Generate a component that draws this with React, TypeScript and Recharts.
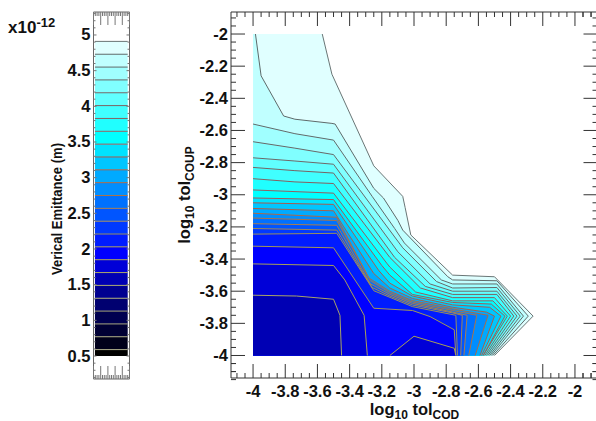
import React from "react";
import { ComposedChart, XAxis, YAxis, Area, Line } from "recharts";

type Pt = [number, number];

const FONT = "'Liberation Sans', Arial, sans-serif";
const AXIS = "#333333";

const bandColors = [
  "#e0ffff", "#c0ffff", "#a0ffff", "#80ffff", "#60ffff", "#40ffff", "#20ffff", "#00ffff",
  "#00e3ff", "#00c6ff", "#00aaff", "#008eff", "#0071ff", "#0055ff", "#0039ff", "#001cff", "#0000ff",
  "#0000d8", "#0000b4", "#000090", "#000070", "#000050", "#000034", "#00001a", "#000000",
];
const lineColors = [
  "#6a7676", "#5e6a6a", "#626a6a", "#686868", "#706868", "#786464", "#866060", "#926060",
  "#a05a5a", "#a55c50", "#a86048", "#aa6a48", "#aa7448", "#a87e50", "#a08858", "#98905e",
  "#a09858", "#a8a058", "#a8a468", "#a8a870", "#a8a878", "#a8a878", "#a8a880", "#a8a880", "#a8a888",
];
const levels = [4.91, 4.73, 4.55, 4.37, 4.19, 4.01, 3.83, 3.65, 3.47, 3.29, 3.11, 2.93, 2.75, 2.57, 2.39, 2.21, 2.03, 1.85, 1.67, 1.49, 1.31, 1.13, 0.95, 0.77, 0.59];
const levelFloor = 0.5;

const c1: Pt[] = [[-3.57, -2], [-3.51, -2.25], [-3.25, -2.82], [-3.07, -3.01], [-3.055, -3.08], [-3.02, -3.25], [-2.76, -3.5], [-2.5, -3.51], [-2.26, -3.755], [-2.5, -4]];
const c2: Pt[] = [[-3.985, -2], [-3.95, -2.26], [-3.81, -2.51], [-3.74, -2.53], [-3.51, -2.556], [-3.49, -2.56], [-3.25, -2.96], [-3.19, -3.02], [-3.1, -3.16], [-3.07, -3.22], [-2.79, -3.51], [-2.76, -3.53], [-2.485, -3.535], [-2.29, -3.755], [-2.51, -4]];
const c3: Pt[] = [[-4, -2.56], [-3.74, -2.62], [-3.5, -2.66], [-3.26, -3.01], [-3.12, -3.21], [-3.06, -3.3], [-2.83, -3.53], [-2.76, -3.555], [-2.485, -3.555], [-2.32, -3.755], [-2.52, -4]];
const c4: Pt[] = [[-4, -2.67], [-3.74, -2.71], [-3.5, -2.75], [-3.07, -3.33], [-2.86, -3.54], [-2.76, -3.58], [-2.485, -3.577], [-2.34, -3.755], [-2.53, -4]];
const c5: Pt[] = [[-4, -2.77], [-3.74, -2.79], [-3.5, -2.81], [-3.1, -3.355], [-2.9, -3.555], [-2.76, -3.6], [-2.485, -3.6], [-2.36, -3.755], [-2.54, -4]];
const c6: Pt[] = [[-4, -2.83], [-3.74, -2.85], [-3.5, -2.865], [-3.12, -3.39], [-2.93, -3.57], [-2.76, -3.62], [-2.485, -3.62], [-2.38, -3.755], [-2.55, -4]];
const c7: Pt[] = [[-4, -2.9], [-3.74, -2.92], [-3.5, -2.93], [-3.15, -3.39], [-2.96, -3.58], [-2.76, -3.64], [-2.5, -3.64], [-2.4, -3.755], [-2.56, -4]];
const c8: Pt[] = [[-4, -2.97], [-3.5, -2.99], [-3.17, -3.425], [-3.15, -3.45], [-2.99, -3.605], [-2.76, -3.66], [-2.51, -3.66], [-2.42, -3.755], [-2.57, -4]];
const c9: Pt[] = [[-4, -3.02], [-3.5, -3.03], [-3.2, -3.44], [-3.15, -3.5], [-3.01, -3.62], [-2.76, -3.67], [-2.52, -3.68], [-2.435, -3.755], [-2.57, -4]];
const c10: Pt[] = [[-4, -3.05], [-3.5, -3.06], [-3.22, -3.47], [-3.15, -3.55], [-3.01, -3.63], [-2.76, -3.685], [-2.53, -3.7], [-2.46, -3.755], [-2.58, -4]];
const c11: Pt[] = [[-4, -3.085], [-3.5, -3.1], [-3.25, -3.49], [-3.15, -3.58], [-3.01, -3.645], [-2.76, -3.7], [-2.55, -3.73], [-2.5, -3.755], [-2.59, -4]];
const c12: Pt[] = [[-4, -3.115], [-3.48, -3.14], [-3.28, -3.518], [-3.15, -3.6], [-3.01, -3.658], [-2.76, -3.71], [-2.54, -3.75], [-2.62, -4]];
const c13: Pt[] = [[-4, -3.145], [-3.48, -3.16], [-3.27, -3.536], [-3.15, -3.61], [-3.01, -3.667], [-2.76, -3.72], [-2.61, -3.75], [-2.66, -4]];
const c14: Pt[] = [[-4, -3.18], [-3.48, -3.19], [-3.27, -3.555], [-3.15, -3.62], [-3.01, -3.676], [-2.76, -3.73], [-2.67, -3.75], [-2.69, -4]];
const c15: Pt[] = [[-4, -3.21], [-3.48, -3.22], [-3.26, -3.577], [-3.15, -3.63], [-3.01, -3.686], [-2.76, -3.735], [-2.7, -3.75], [-2.71, -4]];
const c16: Pt[] = [[-4, -3.245], [-3.48, -3.24], [-3.25, -3.597], [-3.01, -3.696], [-2.74, -3.75], [-2.73, -4]];
const c17: Pt[] = [[-4, -3.32], [-3.5, -3.33], [-3.25, -3.706], [-3.01, -3.72], [-2.9, -3.758], [-2.75, -3.84], [-2.74, -4]];
const c18: Pt[] = [[-4, -3.43], [-3.5, -3.44], [-3.43, -3.53], [-3.31, -3.75], [-3.29, -4]];
const c19: Pt[] = [[-4, -3.625], [-3.73, -3.63], [-3.5, -3.65], [-3.46, -3.75], [-3.45, -4]];
const island: Pt[] = [[-3.15, -4], [-3, -3.88], [-2.75, -3.955], [-2.74, -4]];
const contours = [c1, c2, c3, c4, c5, c6, c7, c8, c9, c10, c11, c12, c13, c14, c15, c16, c17, c18, c19];

const xMajor = [-4, -3.8, -3.6, -3.4, -3.2, -3, -2.8, -2.6, -2.4, -2.2, -2];
const yMajor = [-2, -2.2, -2.4, -2.6, -2.8, -3, -3.2, -3.4, -3.6, -3.8, -4];
const minorOffsets = [0.05, 0.1, 0.15];
const xMinor = [-4.1, -4.05, ...xMajor.flatMap((v) => minorOffsets.map((o) => v + o)), -1.95, -1.9];
const yMinor = [-1.9, -1.95, ...yMajor.flatMap((v) => minorOffsets.map((o) => v - o)), -4.05, -4.1];
const barMajor = [0.5, 1, 1.5, 2, 2.5, 3, 3.5, 4, 4.5, 5];
const barMinor = [0.2, 0.3, 0.4, 0.6, 0.7, 0.8, 0.9, 1.1, 1.2, 1.3, 1.4, 1.6, 1.7, 1.8, 1.9, 2.1, 2.2, 2.3, 2.4, 2.6, 2.7, 2.8, 2.9, 3.1, 3.2, 3.3, 3.4, 3.6, 3.7, 3.8, 3.9, 4.1, 4.2, 4.3, 4.4, 4.6, 4.7, 4.8, 4.9, 5.1, 5.2, 5.3];
const barXMajor = [0, 0.2, 0.4, 0.6, 0.8, 1];
const barXMinor = [0.05, 0.1, 0.15, 0.25, 0.3, 0.35, 0.45, 0.5, 0.55, 0.65, 0.7, 0.75, 0.85, 0.9, 0.95];

const isMajor = (list: number[], v: number) => list.some((m) => Math.abs(m - v) < 1e-6);

const toRows = (pts: Pt[]) => pts.map(([x, y]) => ({ x, y }));

function toAreaRows(pts: Pt[]) {
  const bottom = -4;
  let upper: Pt[] = pts.slice();
  if (upper[0][0] > -4 && upper[0][1] === -2) upper = [[-4, -2], ...upper];
  const last = upper[upper.length - 1];
  const apex = upper[upper.length - 2];
  if (last[0] >= apex[0]) return upper.map(([x, y]) => ({ x, r: [bottom, y] }));
  const head = upper.slice(0, -1);
  const rows: { x: number; r: number[] }[] = [];
  let added = false;
  head.forEach(([x, y], i) => {
    if (!added && x > last[0] && i > 0) {
      const [px, py] = head[i - 1];
      const t = (last[0] - px) / (x - px);
      rows.push({ x: last[0], r: [bottom, py + t * (y - py)] });
      added = true;
    }
    const low = x <= last[0] ? bottom : bottom + ((x - last[0]) / (apex[0] - last[0])) * (apex[1] - bottom);
    rows.push({ x, r: [low, y] });
  });
  return rows;
}

type TickProps = { x: number; y: number; payload: { value: number } };
const numLabel = (v: number) => String(Math.round(v * 10) / 10);
const textStyle = { fontFamily: FONT, fontWeight: 700, fontSize: 16.5, fill: "#111" } as const;

const BottomTick = ({ x, y, payload }: TickProps) => {
  const major = isMajor(xMajor, payload.value);
  return (
    <g>
      <line x1={x} x2={x} y1={y} y2={y - (major ? 14 : 5)} stroke={AXIS} />
      {major && <text x={x} y={y + 19} textAnchor="middle" {...textStyle}>{numLabel(payload.value)}</text>}
    </g>
  );
};
const TopTick = ({ x, y, payload }: TickProps) => (
  <line x1={x} x2={x} y1={y} y2={y + (isMajor(xMajor, payload.value) ? 14 : 5)} stroke={AXIS} />
);
const LeftTick = ({ x, y, payload }: TickProps) => {
  const major = isMajor(yMajor, payload.value);
  return (
    <g>
      <line x1={x} x2={x + (major ? 14 : 5)} y1={y} y2={y} stroke={AXIS} />
      {major && <text x={x - 3} y={y + 5.5} textAnchor="end" {...textStyle}>{numLabel(payload.value)}</text>}
    </g>
  );
};
const RightTick = ({ x, y, payload }: TickProps) => (
  <line x1={x} x2={x - (isMajor(yMajor, payload.value) ? 14 : 5)} y1={y} y2={y} stroke={AXIS} />
);

const BarLeftTick = ({ x, y, payload }: TickProps) => {
  const major = isMajor(barMajor, payload.value);
  return (
    <g>
      <line x1={x} x2={x + (major ? 3 : 2)} y1={y} y2={y} stroke="#777" />
      {major && <text x={x - 3} y={y + 5.5} textAnchor="end" {...textStyle}>{numLabel(payload.value)}</text>}
    </g>
  );
};
const BarRightTick = ({ x, y, payload }: TickProps) => (
  <line x1={x} x2={x - (isMajor(barMajor, payload.value) ? 3 : 2)} y1={y} y2={y} stroke="#777" />
);
const BarTopTick = ({ x, y, payload }: TickProps) => (
  <line x1={x} x2={x} y1={y} y2={y + (isMajor(barXMajor, payload.value) ? 13 : 4)} stroke="#777" />
);
const BarBottomTick = ({ x, y, payload }: TickProps) => (
  <line x1={x} x2={x} y1={y} y2={y - (isMajor(barXMajor, payload.value) ? 13 : 4)} stroke="#777" />
);

const axisLine = { stroke: AXIS, strokeWidth: 1 };
const xTicks = [...xMinor, ...xMajor];
const yTicks = [...yMinor, ...yMajor];
const DOMAIN_X: [number, number] = [-4.137, -1.86];
const DOMAIN_Y: [number, number] = [-4.14, -1.863];

function MainChart() {
  return (
    <ComposedChart width={640} height={421} margin={{ left: 230, right: 41.5, top: 11, bottom: 42 }}>
      <XAxis xAxisId="b" dataKey="x" type="number" domain={DOMAIN_X} allowDataOverflow ticks={xTicks} interval={0} height={1} tickLine={false} tickSize={0} tickMargin={0} axisLine={axisLine} tick={BottomTick as any} />
      <XAxis xAxisId="t" orientation="top" dataKey="x" type="number" domain={DOMAIN_X} allowDataOverflow ticks={xTicks} interval={0} height={1} tickLine={false} tickSize={0} tickMargin={0} axisLine={axisLine} tick={TopTick as any} />
      <YAxis yAxisId="l" type="number" domain={DOMAIN_Y} allowDataOverflow ticks={yTicks} interval={0} width={1} tickLine={false} tickSize={0} tickMargin={0} axisLine={axisLine} tick={LeftTick as any} />
      <YAxis yAxisId="r" orientation="right" type="number" domain={DOMAIN_Y} allowDataOverflow ticks={yTicks} interval={0} width={1} tickLine={false} tickSize={0} tickMargin={0} axisLine={axisLine} tick={RightTick as any} />
      {contours.map((c, i) => (
        <Area key={`a${i}`} xAxisId="b" yAxisId="l" data={toAreaRows(c)} dataKey="r" type="linear" fill={bandColors[i]} fillOpacity={1} stroke="none" dot={false} activeDot={false} isAnimationActive={false} />
      ))}
      <Area xAxisId="b" yAxisId="l" data={toAreaRows(island)} dataKey="r" type="linear" fill={bandColors[17]} fillOpacity={1} stroke="none" dot={false} activeDot={false} isAnimationActive={false} />
      {contours.map((c, i) => (
        <Line key={`l${i}`} xAxisId="b" yAxisId="l" data={toRows(c)} dataKey="y" type="linear" stroke={lineColors[i]} strokeWidth={1} dot={false} activeDot={false} isAnimationActive={false} />
      ))}
      <Line xAxisId="b" yAxisId="l" data={toRows(island)} dataKey="y" type="linear" stroke={lineColors[17]} strokeWidth={1} dot={false} activeDot={false} isAnimationActive={false} />
    </ComposedChart>
  );
}

const BAR_X: [number, number] = [0, 1];
const BAR_Y: [number, number] = [0.178, 5.322];
const BAND_L = 0.04;
const BAND_R = 0.95;
const barYTicks = [...barMinor, ...barMajor];
const barXTicks = [...barXMinor, ...barXMajor];
const barAxis = { stroke: "#666", strokeWidth: 1 };

function ColorBar() {
  return (
    <ComposedChart width={140} height={421} margin={{ left: 92.5, right: 9.5, top: 11, bottom: 41 }}>
      <XAxis xAxisId="b" dataKey="x" type="number" domain={BAR_X} allowDataOverflow ticks={barXTicks} interval={0} height={1} tickLine={false} tickSize={0} tickMargin={0} axisLine={barAxis} tick={BarBottomTick as any} />
      <XAxis xAxisId="t" orientation="top" dataKey="x" type="number" domain={BAR_X} allowDataOverflow ticks={barXTicks} interval={0} height={1} tickLine={false} tickSize={0} tickMargin={0} axisLine={barAxis} tick={BarTopTick as any} />
      <YAxis yAxisId="l" type="number" domain={BAR_Y} allowDataOverflow ticks={barYTicks} interval={0} width={1} tickLine={false} tickSize={0} tickMargin={0} axisLine={barAxis} tick={BarLeftTick as any} />
      <YAxis yAxisId="r" orientation="right" type="number" domain={BAR_Y} allowDataOverflow ticks={barYTicks} interval={0} width={1} tickLine={false} tickSize={0} tickMargin={0} axisLine={barAxis} tick={BarRightTick as any} />
      {levels.map((lv, i) => {
        const low = i + 1 < levels.length ? levels[i + 1] : levelFloor;
        return (
          <Area key={`b${i}`} xAxisId="b" yAxisId="l" data={[{ x: BAND_L, r: [low, lv] }, { x: BAND_R, r: [low, lv] }]} dataKey="r" type="linear" fill={bandColors[i]} fillOpacity={1} stroke="none" dot={false} activeDot={false} isAnimationActive={false} />
        );
      })}
      {levels.map((lv, i) => (
        <Line key={`m${i}`} xAxisId="b" yAxisId="l" data={[{ x: BAND_L, y: lv }, { x: BAND_R, y: lv }]} dataKey="y" type="linear" stroke={lineColors[i]} strokeWidth={1} dot={false} activeDot={false} isAnimationActive={false} />
      ))}
    </ComposedChart>
  );
}

function Titles() {
  const t = { fontFamily: FONT, fontWeight: 700, fill: "#111" } as const;
  return (
    <svg width={596} height={421} style={{ position: "absolute", left: 0, top: 0, pointerEvents: "none" }}>
      <text x={8} y={33} fontSize={17} {...t}>x10<tspan dy={-6} fontSize={13}>-12</tspan></text>
      <text transform="translate(62,209) rotate(-90)" textAnchor="middle" fontSize={14} textLength={132} lengthAdjust="spacingAndGlyphs" {...t}>Verical Emittance (m)</text>
      <text transform="translate(190,195) rotate(-90)" textAnchor="middle" fontSize={16.5} {...t}>
        log<tspan dy={4} fontSize={12}>10</tspan><tspan dy={-4}> tol</tspan><tspan dy={4} fontSize={12}>COUP</tspan>
      </text>
      <text x={414.5} y={415} textAnchor="middle" fontSize={16.5} {...t}>
        log<tspan dy={4} fontSize={12}>10</tspan><tspan dy={-4}> tol</tspan><tspan dy={4} fontSize={12}>COD</tspan>
      </text>
    </svg>
  );
}

export default function App() {
  return (
    <div style={{ position: "fixed", left: 0, top: 0, width: 596, height: 421, overflow: "hidden", background: "#fff" }}>
      <div style={{ position: "absolute", left: 0, top: 0 }}><ColorBar /></div>
      <div style={{ position: "absolute", left: 0, top: 0 }}><MainChart /></div>
      <Titles />
    </div>
  );
}
